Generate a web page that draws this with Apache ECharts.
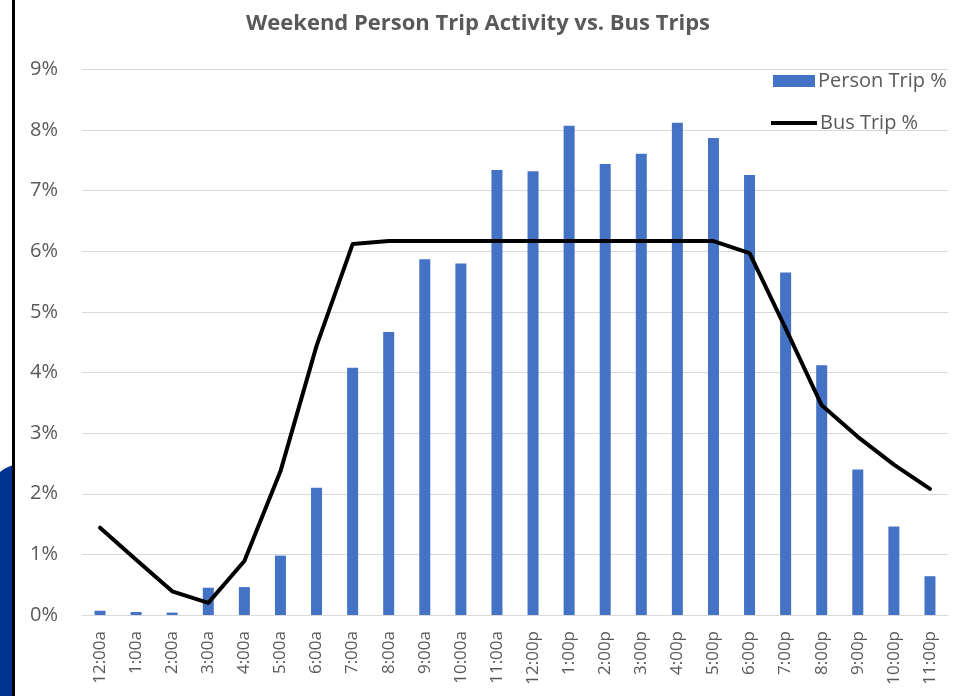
<!DOCTYPE html>
<html>
<head>
<meta charset="utf-8">
<script src="https://cdn.jsdelivr.net/npm/echarts@6/dist/echarts.min.js"></script>
<style>
html,body{margin:0;padding:0;background:#fff;}
#chart{width:956px;height:696px;}
</style>
</head>
<body>
<div id="chart"></div>
<script>
var categories = ['12:00a','1:00a','2:00a','3:00a','4:00a','5:00a','6:00a','7:00a','8:00a','9:00a','10:00a','11:00a',
                  '12:00p','1:00p','2:00p','3:00p','4:00p','5:00p','6:00p','7:00p','8:00p','9:00p','10:00p','11:00p'];
var personTrip = [0.07,0.05,0.04,0.45,0.46,0.98,2.10,4.08,4.67,5.87,5.80,7.34,
                  7.32,8.07,7.44,7.61,8.12,7.87,7.26,5.65,4.12,2.40,1.46,0.64];
var busTrip = [1.44,0.91,0.39,0.20,0.89,2.37,4.44,6.12,6.17,6.17,6.17,6.17,
               6.17,6.17,6.17,6.17,6.17,6.17,5.97,4.73,3.46,2.94,2.48,2.08];
var yTicks = [0,1,2,3,4,5,6,7,8,9];

var chart = echarts.init(document.getElementById('chart'));
var font = "'Open Sans', 'Noto Sans', sans-serif";
chart.setOption({
  animation: false,
  textStyle: {fontFamily: font},
  title: {
    text: 'Weekend Person Trip Activity vs. Bus Trips',
    left: 'center', top: 8,
    textStyle: {fontSize: 22, fontWeight: 'bold', color: '#595959', fontFamily: font}
  },
  graphic: [
    {type: 'polygon', shape: {points: [[0,472],[4,469],[8,467],[13,465],[13,696],[0,696]]}, style: {fill: '#00338F'}, z: 100},
    {type: 'rect', shape: {x: 12, y: 0, width: 3, height: 696}, style: {fill: '#000'}, z: 100}
  ],
  legend: [
    {
      data: [{name: 'Person Trip %', icon: 'rect'}],
      top: 66, left: 768, itemWidth: 42, itemHeight: 12, itemGap: 6,
      textStyle: {fontSize: 20, color: '#595959', fontFamily: font, padding: [0, 0, 0, -2]}
    },
    {
      data: [{name: 'Bus Trip %', icon: 'path://M0,0 L46,0 L46,4 L0,4 Z'}],
      top: 108, left: 766, itemWidth: 46, itemHeight: 4, itemGap: 4,
      textStyle: {fontSize: 20, color: '#595959', fontFamily: font, padding: [0, 0, 0, -2]}
    }
  ],
  grid: {left: 82, right: 8, top: 69.5, bottom: 81},
  xAxis: {
    type: 'category', data: categories,
    axisLine: {lineStyle: {color: '#D9D9D9', width: 1}},
    axisTick: {show: false},
    axisLabel: {rotate: 90, fontSize: 17, color: '#595959', margin: 16, fontFamily: font}
  },
  yAxis: {
    type: 'value', min: 0, max: 9, interval: 1,
    axisLine: {show: false}, axisTick: {show: false},
    splitLine: {lineStyle: {color: '#D9D9D9', width: 1}},
    axisLabel: {formatter: function (v) { return yTicks.indexOf(v) >= 0 ? v + '%' : ''; },
                fontSize: 20, color: '#595959', margin: 24, fontFamily: font}
  },
  series: [
    {
      name: 'Person Trip %', type: 'bar', data: personTrip, barWidth: 11,
      itemStyle: {color: '#4472C4'}
    },
    {
      name: 'Bus Trip %', type: 'line', data: busTrip, showSymbol: false, symbol: 'none',
      lineStyle: {color: '#000', width: 4, cap: 'round', join: 'round'},
      itemStyle: {color: '#000'}
    }
  ]
});
</script>
</body>
</html>
